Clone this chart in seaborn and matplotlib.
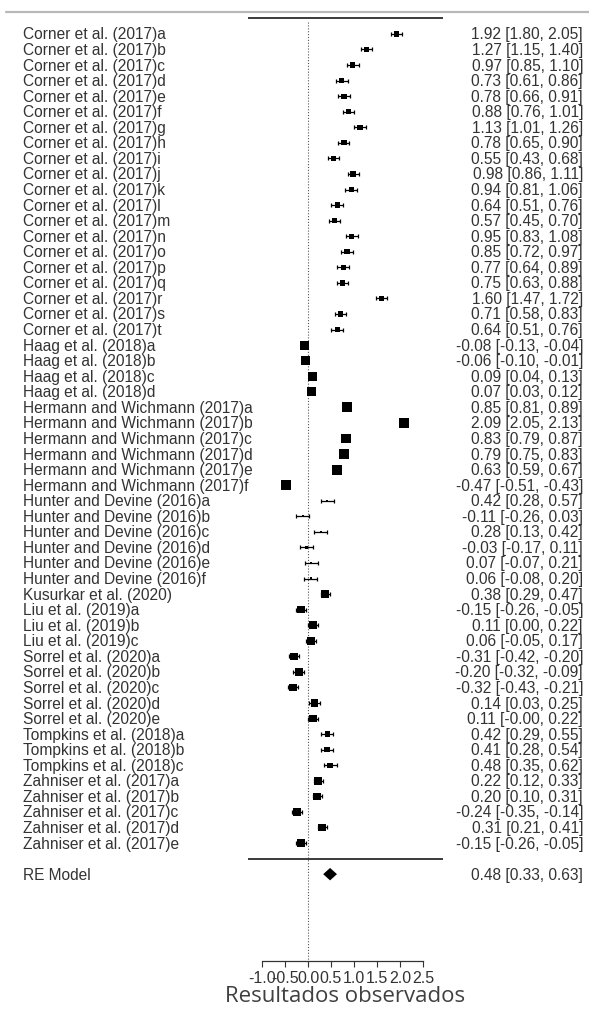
import matplotlib
matplotlib.use("Agg")
import matplotlib.pyplot as plt
import seaborn as sns
import numpy as np
import pandas as pd
from matplotlib.transforms import blended_transform_factory
from matplotlib.lines import Line2D

# ---------------- data ----------------
studies = (
    [f"Corner et al. (2017){c}" for c in "abcdefghijklmnopqrst"]
    + [f"Haag et al. (2018){c}" for c in "abcd"]
    + [f"Hermann and Wichmann (2017){c}" for c in "abcdef"]
    + [f"Hunter and Devine (2016){c}" for c in "abcdef"]
    + ["Kusurkar et al. (2020)"]
    + [f"Liu et al. (2019){c}" for c in "abc"]
    + [f"Sorrel et al. (2020){c}" for c in "abcde"]
    + [f"Tompkins et al. (2018){c}" for c in "abc"]
    + [f"Zahniser et al. (2017){c}" for c in "abcde"]
)
estimates = [1.92, 1.27, 0.97, 0.73, 0.78, 0.88, 1.13, 0.78, 0.55, 0.98,
             0.94, 0.64, 0.57, 0.95, 0.85, 0.77, 0.75, 1.60, 0.71, 0.64,
             -0.08, -0.06, 0.09, 0.07,
             0.85, 2.09, 0.83, 0.79, 0.63, -0.47,
             0.42, -0.11, 0.28, -0.03, 0.07, 0.06,
             0.38,
             -0.15, 0.11, 0.06,
             -0.31, -0.20, -0.32, 0.14, 0.11,
             0.42, 0.41, 0.48,
             0.22, 0.20, -0.24, 0.31, -0.15]
ci_lower = [1.80, 1.15, 0.85, 0.61, 0.66, 0.76, 1.01, 0.65, 0.43, 0.86,
            0.81, 0.51, 0.45, 0.83, 0.72, 0.64, 0.63, 1.47, 0.58, 0.51,
            -0.13, -0.10, 0.04, 0.03,
            0.81, 2.05, 0.79, 0.75, 0.59, -0.51,
            0.28, -0.26, 0.13, -0.17, -0.07, -0.08,
            0.29,
            -0.26, 0.00, -0.05,
            -0.42, -0.32, -0.43, 0.03, -0.004,
            0.29, 0.28, 0.35,
            0.12, 0.10, -0.35, 0.21, -0.26]
ci_upper = [2.05, 1.40, 1.10, 0.86, 0.91, 1.01, 1.26, 0.90, 0.68, 1.11,
            1.06, 0.76, 0.70, 1.08, 0.97, 0.89, 0.88, 1.72, 0.83, 0.76,
            -0.04, -0.01, 0.13, 0.12,
            0.89, 2.13, 0.87, 0.83, 0.67, -0.43,
            0.57, 0.03, 0.42, 0.11, 0.21, 0.20,
            0.47,
            -0.05, 0.22, 0.17,
            -0.20, -0.09, -0.21, 0.25, 0.22,
            0.55, 0.54, 0.62,
            0.33, 0.31, -0.14, 0.41, -0.05]
# relative study weights (%)
weights = ([1.4] * 20 + [2.4] * 4 + [2.6] * 6 + [0.6] * 6 + [2.1]
           + [2.0] * 3 + [2.0] * 5 + [1.4] * 3 + [2.0] * 5)
model_label = "RE Model"
model_est, model_lo, model_hi = 0.48, 0.33, 0.63
x_ticks = [-1.0, -0.5, 0.0, 0.5, 1.0, 1.5, 2.0, 2.5]
x_label = "Resultados observados"

# ---------------- figure ----------------
sns.set_theme(style="white")
plt.rcParams["font.family"] = ["Liberation Sans", "DejaVu Sans"]
plt.rcParams["axes.unicode_minus"] = False

W, H = 589, 1012
fig = plt.figure(figsize=(W / 100, H / 100), dpi=100)
x0_pix, x1_pix = 248, 443
y_bot_pix, y_top_pix = 962, 10
ax = fig.add_axes([x0_pix / W, (H - y_bot_pix) / H,
                   (x1_pix - x0_pix) / W, (y_bot_pix - y_top_pix) / H])
zero_pix, px_per_unit = 308, 46.0
ax.set_xlim((x0_pix - zero_pix) / px_per_unit, (x1_pix - zero_pix) / px_per_unit)
row0_pix, px_per_row = 859.6, 15.56
ax.set_ylim((row0_pix - y_bot_pix) / px_per_row, (row0_pix - y_top_pix) / px_per_row)

n = len(studies)
df = pd.DataFrame({
    "study": studies,
    "est": estimates,
    "lo": ci_lower,
    "hi": ci_upper,
    "w": weights,
})
df["row"] = np.arange(n, 0, -1)
side_pt = 3.8 * df["w"] / 1.389
df["area"] = side_pt ** 2

# confidence intervals
ax.errorbar(df["est"], df["row"],
            xerr=[df["est"] - df["lo"], df["hi"] - df["est"]],
            fmt="none", ecolor="black", elinewidth=0.9,
            capsize=1.7, capthick=0.9, zorder=2)
# weighted squares
sns.scatterplot(data=df, x="est", y="row", marker="s", s=df["area"].values,
                color="black", linewidth=0, legend=False, ax=ax, zorder=3)

# summary diamond
ax.fill([model_lo, model_est, model_hi, model_est],
        [-1, -1 + 0.4, -1, -1 - 0.4], color="black", lw=0, zorder=3)

# reference lines
ax.axhline(n + 1, color="#3a3a3a", lw=1.4)
ax.axhline(0, color="#3a3a3a", lw=1.4)
ax.plot([0, 0], [n + 0.75, ax.get_ylim()[0]], color="#555555",
        lw=0.8, ls=(0, (1, 1.6)), zorder=1)

# axis styling
for s in ["top", "left", "right"]:
    ax.spines[s].set_visible(False)
ax.spines["bottom"].set_bounds(x_ticks[0], x_ticks[-1])
ax.spines["bottom"].set_color("#333333")
ax.spines["bottom"].set_linewidth(0.9)
ax.set_xticks(x_ticks)
ax.set_xticklabels([f"{t:.1f}" for t in x_ticks])
ax.set_yticks([])
ax.tick_params(axis="x", bottom=True, direction="out", length=4.5, width=0.8,
               color="#333333", labelsize=11.5, labelcolor="#333333", pad=2)
ax.set_xlabel(x_label, fontsize=16, family=["Open Sans", "DejaVu Sans"],
              color="#404040", labelpad=0)
ax.set_ylabel("")
ax.set_facecolor("none")

# text columns
fs = 11.2
trans = blended_transform_factory(fig.transFigure, ax.transData)
for _, r in df.iterrows():
    ax.text(23 / W, r["row"], r["study"], transform=trans, ha="left",
            va="center", fontsize=fs, color="#333333")
    ax.text(583 / W, r["row"], f"{r['est']:.2f} [{r['lo']:.2f}, {r['hi']:.2f}]",
            transform=trans, ha="right", va="center", fontsize=fs,
            color="#333333")
ax.text(23 / W, -1, model_label, transform=trans, ha="left", va="center",
        fontsize=fs, color="#333333")
ax.text(583 / W, -1, f"{model_est:.2f} [{model_lo:.2f}, {model_hi:.2f}]",
        transform=trans, ha="right", va="center", fontsize=fs, color="#333333")

# page border line at the very top
fig.add_artist(Line2D([6 / W, 1.0], [1 - 13 / H, 1 - 13 / H],
                      transform=fig.transFigure, color="#b8b8b8", lw=1.6))

fig.savefig("out.png", dpi=100)
